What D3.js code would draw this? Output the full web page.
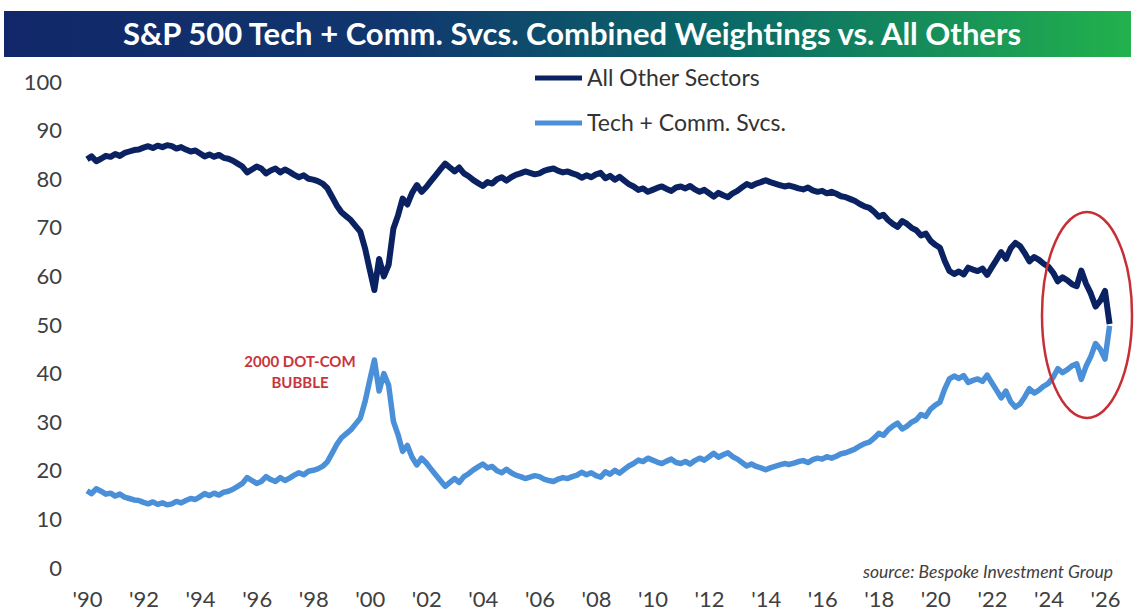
<!DOCTYPE html>
<html>
<head>
<meta charset="utf-8">
<script src="https://cdn.jsdelivr.net/npm/d3@7"></script>
<style>
  body { margin: 0; background: #fff; }
  svg { display: block; font-family: Lato, "Open Sans", sans-serif; }
</style>
</head>
<body>
<div id="chart"></div>
<script>
// S&P 500 Tech + Comm. Svcs. vs. all other sectors, % of index weight
// one value every two months, Jan 1990 .. Mar 2026

const startDate = new Date(1990, 0, 1)
const monthsPerStep = 2

const techComm = [
  15.9, 15.3, 16.3, 15.8, 15.2, 15.4,
  14.8, 15.2, 14.6, 14.3, 14.0, 13.9,
  13.5, 13.2, 13.6, 13.1, 13.4, 13.0,
  13.2, 13.7, 13.4, 13.9, 14.3, 14.1,
  14.7, 15.3, 14.9, 15.4, 15.0, 15.6,
  15.8, 16.2, 16.8, 17.4, 18.6, 18.0,
  17.4, 17.8, 18.8, 18.2, 17.8, 18.6,
  18.0, 18.5, 19.1, 19.6, 19.2, 19.9,
  20.1, 20.4, 20.9, 21.8, 23.6, 25.4,
  26.8, 27.6, 28.4, 29.6, 30.8, 34.2,
  38.6, 42.8, 36.4, 40.0, 37.6, 30.2,
  27.4, 24.0, 25.2, 22.8, 21.2, 22.6,
  21.6, 20.4, 19.2, 18.0, 16.8, 17.6,
  18.4, 17.6, 18.8, 19.4, 20.2, 20.8,
  21.4, 20.6, 20.9, 20.0, 19.6, 20.3,
  19.6, 19.1, 18.8, 18.4, 18.7, 19.0,
  18.8, 18.3, 18.0, 17.8, 18.3, 18.6,
  18.4, 18.8, 19.1, 19.7, 19.2, 19.6,
  19.0, 18.7, 19.8, 19.3, 20.1, 19.5,
  20.3, 21.0, 21.5, 22.2, 21.9, 22.6,
  22.2, 21.8, 21.5, 22.0, 22.4, 21.7,
  21.5, 21.9, 21.4, 22.1, 22.6, 22.2,
  22.9, 23.6, 22.8, 23.3, 23.7, 22.9,
  22.4, 21.7, 21.0, 21.4, 20.9, 20.6,
  20.2, 20.6, 20.9, 21.2, 21.5, 21.3,
  21.6, 21.9, 22.1, 21.7, 22.3, 22.6,
  22.4, 22.9, 22.6, 23.0, 23.5, 23.7,
  24.1, 24.5, 25.1, 25.6, 25.9, 26.7,
  27.7, 27.3, 28.4, 29.2, 29.8, 28.6,
  29.2, 30.0, 30.5, 31.6, 31.2, 32.7,
  33.5, 34.1, 36.8, 38.9, 39.5, 39.0,
  39.6, 38.2, 38.6, 38.9, 38.4, 39.7,
  38.1, 36.6, 35.0, 36.4, 34.2, 33.1,
  33.8, 35.2, 36.9, 36.0, 36.6, 37.4,
  38.0, 39.2, 41.0, 40.2, 40.8, 41.6,
  42.0, 38.8, 41.5, 43.5, 46.2, 45.0,
  43.0, 49.8
]

const allOthers = [
  84.1, 84.7, 83.7, 84.2, 84.8, 84.6,
  85.2, 84.8, 85.4, 85.7, 86.0, 86.1,
  86.5, 86.8, 86.4, 86.9, 86.6, 87.0,
  86.8, 86.3, 86.6, 86.1, 85.7, 85.9,
  85.3, 84.7, 85.1, 84.6, 85.0, 84.4,
  84.2, 83.8, 83.2, 82.6, 81.4, 82.0,
  82.6, 82.2, 81.2, 81.8, 82.2, 81.4,
  82.0, 81.5, 80.9, 80.4, 80.8, 80.1,
  79.9, 79.6, 79.1, 78.2, 76.4, 74.6,
  73.2, 72.4, 71.6, 70.4, 69.2, 65.8,
  61.4, 57.2, 63.6, 60.0, 62.4, 69.8,
  72.6, 76.0, 74.8, 77.2, 78.8, 77.4,
  78.4, 79.6, 80.8, 82.0, 83.2, 82.4,
  81.6, 82.4, 81.2, 80.6, 79.8, 79.2,
  78.6, 79.4, 79.1, 80.0, 80.4, 79.7,
  80.4, 80.9, 81.2, 81.6, 81.3, 81.0,
  81.2, 81.7, 82.0, 82.2, 81.7, 81.4,
  81.6, 81.2, 80.9, 80.3, 80.8, 80.4,
  81.0, 81.3, 80.2, 80.7, 79.9, 80.5,
  79.7, 79.0, 78.5, 77.8, 78.1, 77.4,
  77.8, 78.2, 78.5, 78.0, 77.6, 78.3,
  78.5, 78.1, 78.6, 77.9, 77.4, 77.8,
  77.1, 76.4, 77.2, 76.7, 76.3, 77.1,
  77.6, 78.3, 79.0, 78.6, 79.1, 79.4,
  79.8, 79.4, 79.1, 78.8, 78.5, 78.7,
  78.4, 78.1, 77.9, 78.3, 77.7, 77.4,
  77.6, 77.1, 77.4, 77.0, 76.5, 76.3,
  75.9, 75.5, 74.9, 74.4, 74.1, 73.3,
  72.3, 72.7, 71.6, 70.8, 70.2, 71.4,
  70.8, 70.0, 69.5, 68.4, 68.8, 67.3,
  66.5, 65.9, 63.2, 61.1, 60.5, 61.0,
  60.4, 61.8, 61.4, 61.1, 61.6, 60.3,
  61.9, 63.4, 65.0, 63.6, 65.8, 66.9,
  66.2, 64.8, 63.1, 64.0, 63.4, 62.6,
  62.0, 60.8, 59.0, 59.8, 59.2, 58.4,
  58.0, 61.2, 58.5, 56.5, 53.8, 55.0,
  57.0, 50.2
]

const tickYears = [1990, 1992, 1994, 1996, 1998, 2000, 2002, 2004, 2006, 2008,
  2010, 2012, 2014, 2016, 2018, 2020, 2022, 2024, 2026]
const yTicks = [0, 10, 20, 30, 40, 50, 60, 70, 80, 90, 100]

const seriesNames = ["All Other Sectors", "Tech + Comm. Svcs."]
const seriesColors = ["#0b2262", "#4a90d9"]

const WIDTH = 1134
const HEIGHT = 612

const svg = d3.select("#chart").append("svg")
  .attr("width", WIDTH)
  .attr("height", HEIGHT)

// Title bar
const grad = svg.append("defs").append("linearGradient")
  .attr("id", "titleGrad")
  .attr("x1", "0%").attr("x2", "100%")
grad.append("stop").attr("offset", "0%").attr("stop-color", "#122769")
grad.append("stop").attr("offset", "35%").attr("stop-color", "#10376e")
grad.append("stop").attr("offset", "65%").attr("stop-color", "#0a6b67")
grad.append("stop").attr("offset", "100%").attr("stop-color", "#22b24c")

svg.append("rect")
  .attr("x", 4).attr("y", 11)
  .attr("width", 1127).attr("height", 46)
  .attr("fill", "url(#titleGrad)")

svg.append("text")
  .attr("x", 572).attr("y", 45)
  .attr("text-anchor", "middle")
  .attr("font-size", "31px")
  .attr("font-weight", "bold")
  .attr("fill", "#fff")
  .text("S&P 500 Tech + Comm. Svcs. Combined Weightings vs. All Others")

// Scales
const x = d3.scaleTime()
  .domain([new Date(1990, 0, 1), new Date(2026, 0, 1)])
  .range([87, 1105])

const y = d3.scaleLinear()
  .domain([0, 100])
  .range([568, 82])

const dates = techComm.map((d, i) => d3.timeMonth.offset(startDate, i * monthsPerStep))

// Axes
const yAxisCall = d3.axisLeft(y)
  .tickValues(yTicks)
  .tickSize(0)
  .tickPadding(0)
svg.append("g")
  .attr("class", "y axis")
  .attr("transform", "translate(62, 0)")
  .call(yAxisCall)
  .call(g => g.select(".domain").remove())
  .selectAll("text")
    .attr("font-size", "22px")
    .attr("font-family", "Lato, sans-serif")
    .attr("fill", "#404040")

const xAxisCall = d3.axisBottom(x)
  .tickValues(tickYears.map(yr => new Date(yr, 0, 1)))
  .tickFormat(d => "'" + String(d.getFullYear()).slice(2))
  .tickSize(0)
  .tickPadding(0)
svg.append("g")
  .attr("class", "x axis")
  .attr("transform", "translate(0, 591)")
  .call(xAxisCall)
  .call(g => g.select(".domain").remove())
  .selectAll("text")
    .attr("font-size", "22px")
    .attr("font-family", "Lato, sans-serif")
    .attr("fill", "#404040")

// Lines
const line = d3.line()
  .x((d, i) => x(dates[i]))
  .y(d => y(d))

svg.append("path")
  .datum(allOthers)
  .attr("fill", "none")
  .attr("stroke", seriesColors[0])
  .attr("stroke-width", 6)
  .attr("stroke-linejoin", "round")
  .attr("d", line)

svg.append("path")
  .datum(techComm)
  .attr("fill", "none")
  .attr("stroke", seriesColors[1])
  .attr("stroke-width", 5.5)
  .attr("stroke-linejoin", "round")
  .attr("d", line)

// Legend
const legend = svg.append("g")
seriesNames.forEach((name, i) => {
  const ly = 78 + i * 45
  legend.append("line")
    .attr("x1", 535).attr("x2", 582)
    .attr("y1", ly).attr("y2", ly)
    .attr("stroke", seriesColors[i])
    .attr("stroke-width", 5)
  legend.append("text")
    .attr("x", 587).attr("y", ly)
    .attr("dy", "0.35em")
    .attr("font-size", "23px")
    .attr("fill", "#333")
    .text(name)
})

// Dot-com annotation
svg.append("text")
  .attr("x", 300).attr("y", 367)
  .attr("text-anchor", "middle")
  .attr("font-size", "15px")
  .attr("font-weight", "bold")
  .attr("fill", "#c9343c")
  .text("2000 DOT-COM")
svg.append("text")
  .attr("x", 300).attr("y", 388)
  .attr("text-anchor", "middle")
  .attr("font-size", "15px")
  .attr("font-weight", "bold")
  .attr("fill", "#c9343c")
  .text("BUBBLE")

// Red circle around the latest readings
svg.append("ellipse")
  .attr("cx", 1087).attr("cy", 315)
  .attr("rx", 45).attr("ry", 103)
  .attr("fill", "none")
  .attr("stroke", "#c62f36")
  .attr("stroke-width", 2.5)

// Source
svg.append("text")
  .attr("x", 1113).attr("y", 578)
  .attr("text-anchor", "end")
  .attr("font-size", "17.5px")
  .attr("font-style", "italic")
  .attr("fill", "#404040")
  .text("source: Bespoke Investment Group")
</script>
</body>
</html>
